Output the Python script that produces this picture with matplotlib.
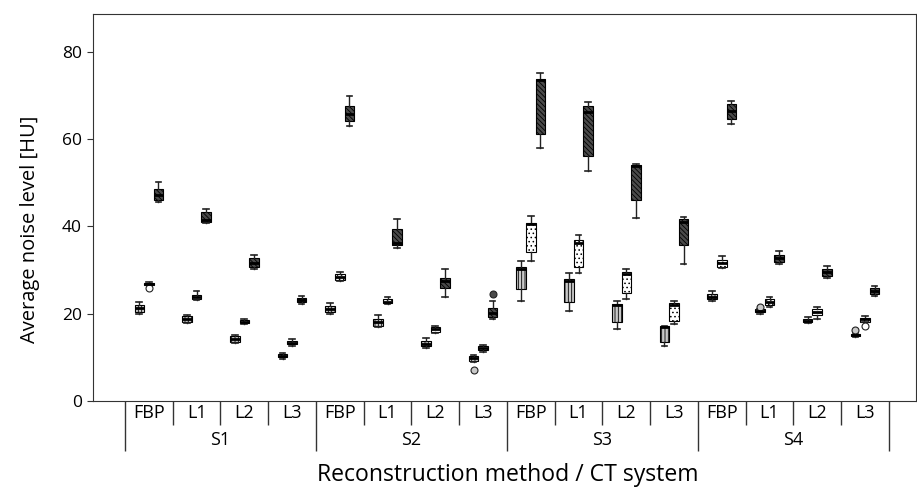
import matplotlib.pyplot as plt

plt.rcParams['font.family'] = ['Open Sans', 'DejaVu Sans']
plt.rcParams['hatch.linewidth'] = 0.6

systems = ['S1', 'S2', 'S3', 'S4']
methods = ['FBP', 'L1', 'L2', 'L3']

# (whisker low, q1, median, q3, whisker high) for S1 FBP, S1 L1, ... S4 L3
series1 = [
    (19.9, 20.5, 21.2, 22.0, 22.6), (17.8, 18.2, 18.8, 19.4, 19.7), (13.2, 13.6, 14.2, 14.8, 15.1), (9.6, 10.0, 10.4, 10.8, 11.1),
    (19.9, 20.3, 21.0, 21.7, 22.4), (17.0, 17.3, 18.0, 18.8, 19.6), (12.1, 12.5, 13.1, 13.7, 14.4), (9.0, 9.2, 9.8, 10.2, 10.5),
    (22.9, 25.6, 30.2, 30.8, 32.1), (20.6, 22.8, 27.5, 27.9, 29.4), (16.5, 18.2, 21.9, 22.2, 23.0), (12.5, 13.6, 17.0, 17.2, 17.3),
    (23.0, 23.3, 23.9, 24.5, 25.1), (19.9, 20.3, 20.6, 21.0, 21.0), (17.9, 18.0, 18.4, 18.8, 19.3), (14.7, 14.8, 15.1, 15.4, 15.6),
]
series2 = [
    (26.6, 26.7, 26.9, 27.1, 27.3), (23.2, 23.4, 23.9, 24.4, 25.1), (17.6, 17.9, 18.2, 18.5, 18.9), (12.7, 13.0, 13.4, 13.7, 14.1),
    (27.6, 27.8, 28.5, 29.2, 29.6), (22.2, 22.4, 22.8, 23.3, 23.8), (15.6, 15.8, 16.5, 17.0, 17.2), (11.2, 11.6, 12.2, 12.6, 12.9),
    (32.0, 34.2, 40.5, 40.7, 42.3), (29.3, 30.8, 36.3, 36.9, 38.1), (23.4, 24.7, 29.0, 29.5, 30.2), (17.7, 18.3, 21.9, 22.4, 23.0),
    (30.4, 30.6, 31.7, 32.4, 33.2), (21.6, 22.0, 22.7, 23.4, 23.8), (18.8, 19.6, 20.3, 21.0, 21.5), (18.0, 18.2, 18.7, 19.0, 19.5),
]
series3 = [
    (45.7, 46.1, 47.3, 48.5, 50.3), (40.7, 41.0, 41.5, 43.3, 43.9), (30.2, 30.7, 31.7, 32.7, 33.5), (22.2, 22.6, 23.2, 23.6, 24.1),
    (63.1, 64.2, 65.7, 67.7, 69.8), (35.1, 35.8, 36.3, 39.4, 41.8), (23.8, 25.8, 27.5, 28.1, 30.3), (18.7, 19.3, 20.1, 21.4, 22.9),
    (58.1, 61.2, 73.6, 73.8, 75.1), (52.7, 56.2, 66.2, 67.5, 68.5), (42.0, 46.0, 53.8, 54.0, 54.4), (31.4, 35.8, 41.1, 41.6, 42.2),
    (63.4, 64.6, 66.5, 68.0, 68.8), (31.3, 31.9, 32.7, 33.4, 34.4), (28.1, 28.7, 29.5, 30.3, 30.9), (24.1, 24.5, 25.2, 25.8, 26.4),
]
# outliers: group index -> values
outliers1 = {7: [7.1], 13: [21.6], 15: [16.3]}
outliers2 = {0: [26.0], 15: [17.2]}
outliers3 = {7: [24.5]}


def make_stats(series, outliers):
    stats = []
    for i, (lo, q1, med, q3, hi) in enumerate(series):
        stats.append(dict(whislo=lo, q1=q1, med=med, q3=q3, whishi=hi,
                          fliers=outliers.get(i, [])))
    return stats


def main():
    fig = plt.figure(figsize=(9.17, 4.88), dpi=100)
    ax = fig.add_axes([0.1014, 0.1783, 0.8976, 0.7930])

    styles = [
        (series1, outliers1, -0.2, '#c8c8c8', '|||||'),
        (series2, outliers2, 0.0, 'white', '....'),
        (series3, outliers3, 0.2, '#4a4a4a', '\\\\\\\\\\\\\\'),
    ]
    n = len(systems) * len(methods)
    for series, outl, off, face, hatch in styles:
        ax.bxp(make_stats(series, outl), positions=[i + off for i in range(n)],
               widths=0.2, capwidths=0.12, patch_artist=True, manage_ticks=False,
               boxprops=dict(facecolor=face, edgecolor='black', hatch=hatch, linewidth=0.8),
               medianprops=dict(color='black', linewidth=2),
               whiskerprops=dict(color='#222222', linewidth=1),
               capprops=dict(color='#222222', linewidth=1.2),
               flierprops=dict(marker='o', markersize=5, markerfacecolor=face,
                               markeredgecolor='#222222', markeredgewidth=0.8))

    ax.set_xlim(-1.17, 16.07)
    ax.set_ylim(0, 88.7)
    ax.set_yticks([0, 20, 40, 60, 80])
    ax.tick_params(axis='y', labelsize=12.5, length=4.5, color='#333333')

    # category separators as ticks
    ax.set_xticks([-0.5 + 4 * k for k in range(len(systems) + 1)])
    ax.set_xticks([i + 0.5 for i in range(n - 1) if (i + 1) % 4 != 0], minor=True)
    ax.tick_params(axis='x', which='major', length=36, width=1, color='#333333', labelbottom=False)
    ax.tick_params(axis='x', which='minor', length=17, width=1, color='#333333', labelbottom=False)
    for sp in ax.spines.values():
        sp.set_color('#333333')

    tr = ax.get_xaxis_transform()
    for s, sys_name in enumerate(systems):
        for m, meth in enumerate(methods):
            ax.text(4 * s + m, -0.03, meth, transform=tr, ha='center', va='center', fontsize=13)
        ax.text(4 * s + 1.5, -0.101, sys_name, transform=tr, ha='center', va='center', fontsize=13)

    ax.text(0.504, -0.19, 'Reconstruction method / CT system', transform=ax.transAxes,
            ha='center', va='center', fontsize=16.6)
    ax.text(-0.076, 0.444, 'Average noise level [HU]', transform=ax.transAxes,
            ha='center', va='center', rotation=90, fontsize=14.5)

    fig.savefig('out.png', dpi=100)


if __name__ == '__main__':
    main()
